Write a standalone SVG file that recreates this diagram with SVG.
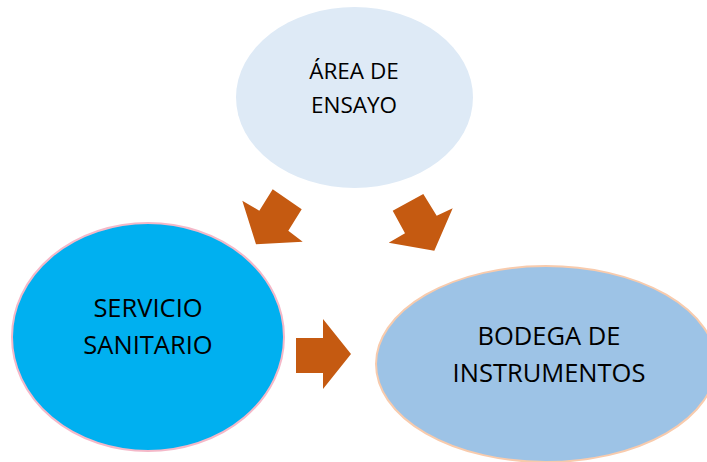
<svg xmlns="http://www.w3.org/2000/svg" width="707" height="462" viewBox="0 0 707 462">
<style>
.lbl{font-family:"Open Sans","Noto Sans","Liberation Sans",sans-serif;fill:#000;text-anchor:middle}
.arr{fill:#C55A11}
</style>
<rect width="707" height="462" fill="#fff"/>
<g id="connectors">
<polygon class="arr" points="272.7,189.3 301.7,209.3 288.3,230.7 302.7,241.7 256,244.3 242.3,200.7 259.3,210.7"/>
<polygon class="arr" points="423.3,194 436.7,215.7 452.7,208.3 434.3,250.7 388.7,242.7 405,233.3 392.7,210.7"/>
<polygon class="arr" points="296,338 323,338 323,319 351,354 323,389 323,373 296,373"/>
</g>
<g id="area-ensayo">
<ellipse cx="354.5" cy="97.5" rx="118.5" ry="90.5" fill="#DEEAF6"/>
<text class="lbl" x="354" y="79" font-size="22.5">ÁREA DE</text>
<text class="lbl" x="354" y="113" font-size="22.5">ENSAYO</text>
</g>
<g id="servicio-sanitario">
<ellipse cx="148" cy="337" rx="136" ry="114" fill="#00B0F0" stroke="#F4B8C8" stroke-width="2"/>
<text class="lbl" x="148" y="317" font-size="25.5">SERVICIO</text>
<text class="lbl" x="148" y="354" font-size="25.5">SANITARIO</text>
</g>
<g id="bodega-instrumentos">
<ellipse cx="546" cy="364" rx="170" ry="98" fill="#9DC3E6" stroke="#F8CBAD" stroke-width="2"/>
<text class="lbl" x="549" y="345" font-size="25.5">BODEGA DE</text>
<text class="lbl" x="549" y="382" font-size="25.5">INSTRUMENTOS</text>
</g>
</svg>
